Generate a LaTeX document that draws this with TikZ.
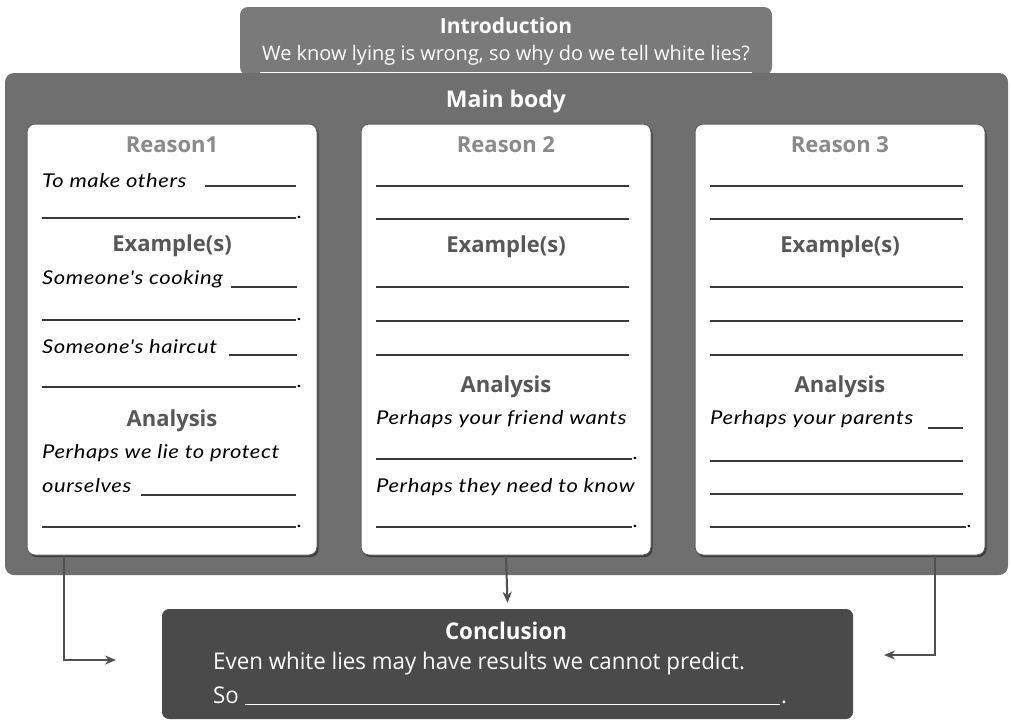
\documentclass[tikz,border=0pt]{standalone}
\usepackage{fontspec}
\setmainfont{Open Sans}
\newfontfamily\hand{Lato}[FakeStretch=1.16,LetterSpace=3]
\newfontfamily\cond{Open Sans}[FakeStretch=0.97]
\usetikzlibrary{arrows.meta}
\definecolor{introgray}{HTML}{7A7A7A}
\definecolor{maingray}{HTML}{6F6F6F}
\definecolor{conclgray}{HTML}{4A4A4A}
\definecolor{rtitle}{HTML}{8A8A8A}
\definecolor{subttl}{HTML}{575757}
\definecolor{ink}{HTML}{3A3A3A}
\definecolor{arrgray}{HTML}{505050}
\tikzset{
  introbox/.style={fill=introgray, rounded corners=8pt, minimum width=532pt, minimum height=68pt, inner sep=0pt},
  mainbox/.style={fill=maingray, rounded corners=9pt, minimum width=1003pt, minimum height=502pt, inner sep=0pt},
  reasonbox/.style={fill=white, draw=ink!80, line width=1pt, rounded corners=8pt, minimum width=290pt, minimum height=431pt, inner sep=0pt},
  shadowbox/.style={fill=ink, rounded corners=8pt, minimum width=290pt, minimum height=431pt, inner sep=0pt},
  conclbox/.style={fill=conclgray, rounded corners=7pt, minimum width=691pt, minimum height=110pt, inner sep=0pt},
  wtitle/.style={text=white, font=\bfseries\fontsize{21}{23}\selectfont, inner sep=0pt},
  wsub/.style={text=white, font=\fontsize{20}{22}\selectfont, inner sep=0pt},
  rtitlestyle/.style={text=rtitle, font=\bfseries\fontsize{22}{24}\selectfont, inner sep=0pt},
  sectitle/.style={text=subttl, font=\bfseries\fontsize{22}{24}\selectfont, inner sep=0pt},
  handtext/.style={text=black, anchor=base west, font=\hand\itshape\fontsize{19}{21}\selectfont, inner sep=0pt},
  blank/.style={draw=ink, line width=1.4pt},
  ctitle/.style={text=white, font=\cond\bfseries\fontsize{23}{25}\selectfont, inner sep=0pt},
  ctext/.style={text=white, anchor=base west, font=\cond\fontsize{23}{25}\selectfont, inner sep=0pt},
  arr/.style={draw=arrgray, line width=2pt, -{Stealth[length=11pt,width=9pt]}},
}
\begin{document}
\begin{tikzpicture}[x=1pt,y=-1pt]
\useasboundingbox (0,0) rectangle (1011,723);
\fill[white] (0,0) rectangle (1011,723);

% Introduction
\node[introbox] (intro) at (506,41) {};
\node[mainbox] (main) at (506.5,324) {};
\node[wtitle] (introT) at (506,26) {Introduction};
\node[wsub] (introS) at (506,55) {We know lying is wrong, so why do we tell white lies?};
\draw[white, line width=1pt] (260,72) -- (752,72);
\node[wtitle, font=\bfseries\fontsize{23}{25}\selectfont] (mainT) at (506,102) {Main body};

% Reason boxes
\node[shadowbox] (s1) at (173.5,341.5) {};
\node[shadowbox] (s2) at (507.5,341.5) {};
\node[shadowbox] (s3) at (841.5,341.5) {};
\node[reasonbox] (r1) at (172,339.5) {};
\node[reasonbox] (r2) at (506,339.5) {};
\node[reasonbox] (r3) at (840,339.5) {};

% ---- Reason 1 ----
\node[rtitlestyle] (r1t) at (172,145) {Reason1};
\node[handtext] (r1a) at (42,187) {To make others};
\draw[blank] (205,186) -- (296,186);
\draw[blank] (42,218) -- (296,218);
\node[handtext] (r1p1) at (297,218) {.};
\node[sectitle] (r1e) at (172,246) {Example(s)};
\node[handtext] (r1b) at (42,284) {Someone's cooking};
\draw[blank] (231,287) -- (297,287);
\draw[blank] (42,320) -- (296,320);
\node[handtext] (r1p2) at (297,320) {.};
\node[handtext] (r1c) at (42,353) {Someone's haircut};
\draw[blank] (229,355) -- (297,355);
\draw[blank] (42,387) -- (296,387);
\node[handtext] (r1p3) at (297,387) {.};
\node[sectitle] (r1an) at (172,421) {Analysis};
\node[handtext] (r1d) at (42,458) {Perhaps we lie to protect};
\node[handtext] (r1e2) at (42,492) {ourselves};
\draw[blank] (141,495) -- (296,495);
\draw[blank] (42,527) -- (296,527);
\node[handtext] (r1p4) at (297,527) {.};

% ---- Reason 2 ----
\node[rtitlestyle] (r2t) at (506,145) {Reason 2};
\draw[blank] (376,186) -- (629,186);
\draw[blank] (376,219) -- (629,219);
\node[sectitle] (r2e) at (506,247) {Example(s)};
\draw[blank] (376,287) -- (629,287);
\draw[blank] (376,321) -- (629,321);
\draw[blank] (376,355) -- (629,355);
\node[sectitle] (r2an) at (506,387) {Analysis};
\node[handtext] (r2a) at (376,424) {Perhaps your friend wants};
\draw[blank] (376,459) -- (632,459);
\node[handtext] (r2p1) at (633,459) {.};
\node[handtext] (r2b) at (376,492) {Perhaps they need to know};
\draw[blank] (376,527) -- (632,527);
\node[handtext] (r2p2) at (633,527) {.};

% ---- Reason 3 ----
\node[rtitlestyle] (r3t) at (840,145) {Reason 3};
\draw[blank] (710,186) -- (963,186);
\draw[blank] (710,219) -- (963,219);
\node[sectitle] (r3e) at (840,247) {Example(s)};
\draw[blank] (710,287) -- (963,287);
\draw[blank] (710,321) -- (963,321);
\draw[blank] (710,355) -- (963,355);
\node[sectitle] (r3an) at (840,387) {Analysis};
\node[handtext] (r3a) at (710,424) {Perhaps your parents};
\draw[blank] (928,428) -- (963,428);
\draw[blank] (710,461) -- (963,461);
\draw[blank] (710,494) -- (963,494);
\draw[blank] (710,527) -- (966,527);
\node[handtext] (r3p1) at (967,527) {.};

% ---- Conclusion ----
\node[conclbox] (concl) at (507.5,664) {};
\node[ctitle] (cT) at (506,631) {Conclusion};
\node[ctext] (cA) at (213,669) {Even white lies may have results we cannot predict.};
\node[ctext] (cB) at (213,703) {So};
\draw[white, line width=1pt] (245,704) -- (780,704);
\node[ctext] (cP) at (781,703) {.};

% ---- Arrows ----
\coordinate (e1) at (116,660);
\coordinate (e3) at (884,655);
\draw[arr] (r1.south -| 64,0) |- (e1);
\draw[arr] (r2.south) -- ([yshift=6pt]concl.north);
\draw[arr] (r3.south -| 935,0) |- (e3);
\end{tikzpicture}
\end{document}
